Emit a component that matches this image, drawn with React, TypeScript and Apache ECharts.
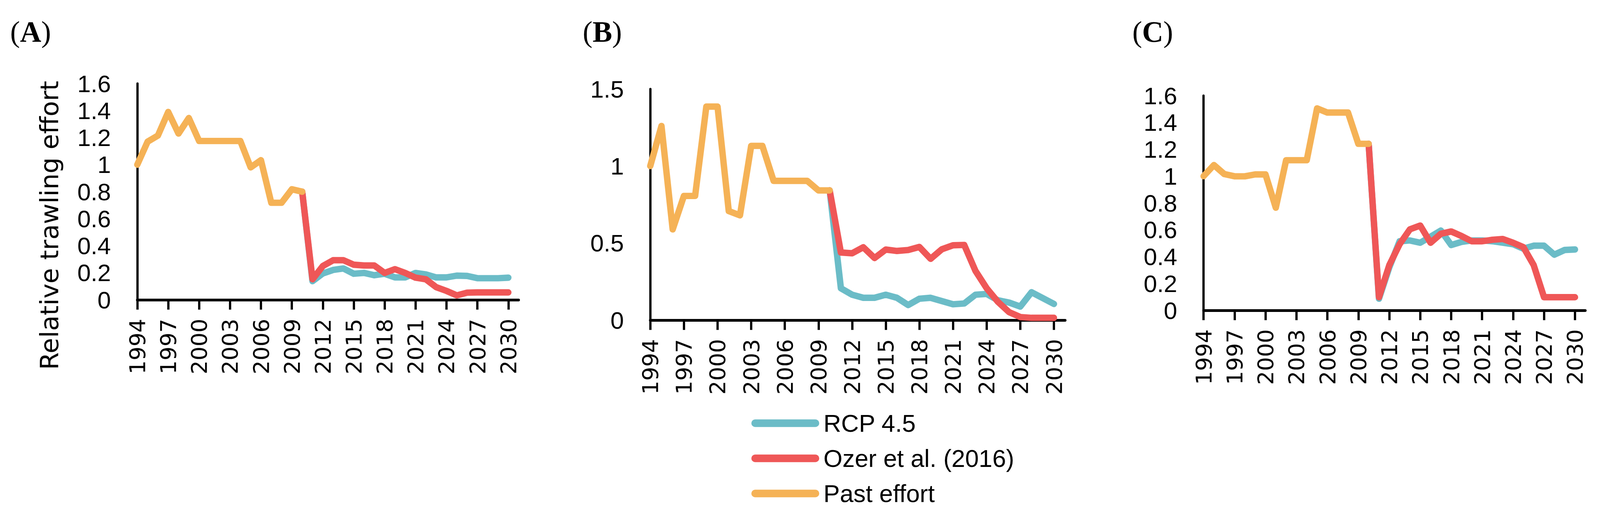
import React, { useEffect, useRef, useState } from "react";
import * as echarts from "echarts";

const YEARS = [
  "1994","1995","1996","1997","1998","1999","2000","2001","2002","2003",
  "2004","2005","2006","2007","2008","2009","2010","2011","2012","2013",
  "2014","2015","2016","2017","2018","2019","2020","2021","2022","2023",
  "2024","2025","2026","2027","2028","2029","2030",
];

// Past effort 1994-2010
const PAST_A = [1.0, 1.17, 1.215, 1.39, 1.23, 1.345, 1.175, 1.175, 1.175, 1.175, 1.175, 0.98, 1.033, 0.718, 0.718, 0.818, 0.8];
const PAST_B = [1.0, 1.26, 0.589, 0.806, 0.806, 1.386, 1.386, 0.708, 0.68, 1.131, 1.131, 0.904, 0.904, 0.904, 0.904, 0.842, 0.842];
const PAST_C = [1.0, 1.083, 1.016, 0.999, 0.999, 1.013, 1.013, 0.765, 1.119, 1.119, 1.119, 1.505, 1.474, 1.474, 1.474, 1.241, 1.241];

// Projections 2010-2030
const RCP_A = [0.8, 0.138, 0.195, 0.221, 0.232, 0.193, 0.199, 0.182, 0.193, 0.166, 0.166, 0.199, 0.188, 0.166, 0.166, 0.179, 0.177, 0.16, 0.16, 0.16, 0.164];
const OZER_A = [0.8, 0.152, 0.25, 0.293, 0.293, 0.26, 0.254, 0.254, 0.199, 0.227, 0.199, 0.164, 0.152, 0.094, 0.066, 0.033, 0.053, 0.055, 0.055, 0.055, 0.055];
const RCP_B = [0.842, 0.207, 0.165, 0.145, 0.145, 0.165, 0.145, 0.098, 0.139, 0.145, 0.124, 0.103, 0.108, 0.165, 0.17, 0.129, 0.114, 0.088, 0.181, 0.143, 0.105];
const OZER_B = [0.842, 0.439, 0.434, 0.473, 0.403, 0.458, 0.449, 0.455, 0.475, 0.398, 0.46, 0.486, 0.488, 0.32, 0.207, 0.119, 0.052, 0.02, 0.015, 0.015, 0.015];
const RCP_C = [1.241, 0.087, 0.32, 0.515, 0.521, 0.504, 0.549, 0.595, 0.487, 0.51, 0.521, 0.521, 0.515, 0.504, 0.493, 0.46, 0.482, 0.482, 0.415, 0.45, 0.454];
const OZER_C = [1.241, 0.098, 0.337, 0.493, 0.604, 0.632, 0.504, 0.571, 0.588, 0.554, 0.515, 0.515, 0.526, 0.532, 0.504, 0.471, 0.337, 0.098, 0.098, 0.098, 0.098];

const Y_MAX = [1.6, 1.5, 1.6];
const Y_STEP = [0.2, 0.5, 0.2];
const PANEL_LABELS = ["A", "B", "C"];
const SERIES_NAMES = ["RCP 4.5", "Ozer et al. (2016)", "Past effort"];
const Y_TITLE = "Relative trawling effort";

const COLORS = ["#6BBCC7", "#EF5757", "#F5B256"];
const SANS = "'Liberation Sans', Arial, sans-serif";
const DEJAVU = "'DejaVu Sans', Verdana, sans-serif";
const SERIF = "'Liberation Serif', 'Times New Roman', serif";

const REF_W = 4242;
const REF_H = 1314;
const GRIDS = [
  { left: 364, top: 214, width: 1011, height: 554 },
  { left: 1724, top: 228, width: 1100, height: 592 },
  { left: 3191, top: 245, width: 1012, height: 550 },
];
const LABEL_POS = [27, 1545, 3002];

export default function App() {
  const ref = useRef<HTMLDivElement>(null);
  const [size] = useState(() => {
    const w = typeof window !== "undefined" && window.innerWidth ? window.innerWidth : REF_W;
    const h = typeof window !== "undefined" && window.innerHeight ? window.innerHeight : REF_H;
    return { w, h };
  });

  useEffect(() => {
    if (!ref.current) return;
    const sx = size.w / REF_W;
    const sy = size.h / REF_H;
    const s = Math.min(sx, sy);
    const X = (v: number) => v * sx;
    const Y = (v: number) => v * sy;
    const P = (v: number) => v * s;

    const chart = echarts.init(ref.current, undefined, { renderer: "svg" });
    const cats = [...YEARS, ""];
    const pad = (n: number) => new Array(n).fill(null);
    const past = [PAST_A, PAST_B, PAST_C];
    const rcp = [RCP_A, RCP_B, RCP_C];
    const ozer = [OZER_A, OZER_B, OZER_C];

    const xAxis: any[] = [];
    const yAxis: any[] = [];
    const series: any[] = [];
    GRIDS.forEach((_, i) => {
      xAxis.push({
        type: "category",
        gridIndex: i,
        data: cats,
        boundaryGap: false,
        axisLine: { lineStyle: { color: "#000", width: P(7) } },
        axisTick: { show: true, interval: 2, length: P(26), lineStyle: { color: "#000", width: P(6) } },
        axisLabel: {
          interval: 2,
          rotate: 90,
          margin: P(50),
          color: "#000",
          fontFamily: DEJAVU,
          fontSize: P(58),
        },
        splitLine: { show: false },
      });
      yAxis.push({
        type: "value",
        gridIndex: i,
        min: 0,
        max: Y_MAX[i],
        interval: Y_STEP[i],
        axisLine: { show: true, lineStyle: { color: "#000", width: P(6) } },
        axisTick: { show: false },
        splitLine: { show: false },
        axisLabel: { margin: P(70), color: "#000", fontFamily: SANS, fontSize: P(64) },
      });
      const lineBase = (name: string, color: string, data: any[], z: number) => ({
        name,
        type: "line",
        xAxisIndex: i,
        yAxisIndex: i,
        data,
        color,
        showSymbol: false,
        symbol: "none",
        z,
        connectNulls: false,
        lineStyle: { color, width: P(17), cap: "round", join: "round" },
      });
      series.push(lineBase(SERIES_NAMES[0], COLORS[0], [...pad(16), ...rcp[i]], 2));
      series.push(lineBase(SERIES_NAMES[1], COLORS[1], [...pad(16), ...ozer[i]], 3));
      series.push(lineBase(SERIES_NAMES[2], COLORS[2], [...past[i]], 4));
    });

    const graphics: any[] = PANEL_LABELS.map((l, i) => ({
      type: "text",
      left: X(LABEL_POS[i]),
      top: Y(44),
      style: {
        text: `{p|(}{b|${l}}{p|)}`,
        rich: {
          p: { fontFamily: SERIF, fontSize: P(78), fill: "#000", fontWeight: "normal" },
          b: { fontFamily: SERIF, fontSize: P(78), fill: "#000", fontWeight: "bold" },
        },
      },
    }));
    graphics.push({
      type: "text",
      x: X(131),
      y: Y(577),
      rotation: Math.PI / 2,
      style: {
        text: Y_TITLE,
        fontFamily: DEJAVU,
        fontSize: P(67),
        fill: "#000",
        align: "center",
        verticalAlign: "middle",
      },
    });

    const w20 = P(20);
    const w180 = P(180);
    const r = w20 / 2;
    const iconPath = `path://M${r} 0H${w180 - r}A${r} ${r} 0 0 1 ${w180 - r} ${w20}H${r}A${r} ${r} 0 0 1 ${r} 0Z`;

    chart.setOption({
      animation: false,
      backgroundColor: "#fff",
      grid: GRIDS.map((g) => ({
        left: X(g.left),
        top: Y(g.top),
        width: X(g.width),
        height: Y(g.height),
        containLabel: false,
      })),
      xAxis,
      yAxis,
      series,
      legend: {
        orient: "vertical",
        left: X(1992),
        top: Y(1039),
        padding: 0,
        itemGap: 0,
        itemWidth: w180,
        itemHeight: w20,
        selectedMode: false,
        icon: iconPath,
        data: SERIES_NAMES,
        textStyle: {
          fontFamily: SANS,
          fontSize: P(65),
          lineHeight: Y(90),
          color: "#000",
          padding: [0, 0, 0, P(6)],
        },
      },
      graphic: graphics,
    });
    return () => chart.dispose();
  }, [size]);

  return (
    <div
      ref={ref}
      style={{ position: "absolute", left: 0, top: 0, width: size.w, height: size.h, background: "#fff" }}
    />
  );
}
